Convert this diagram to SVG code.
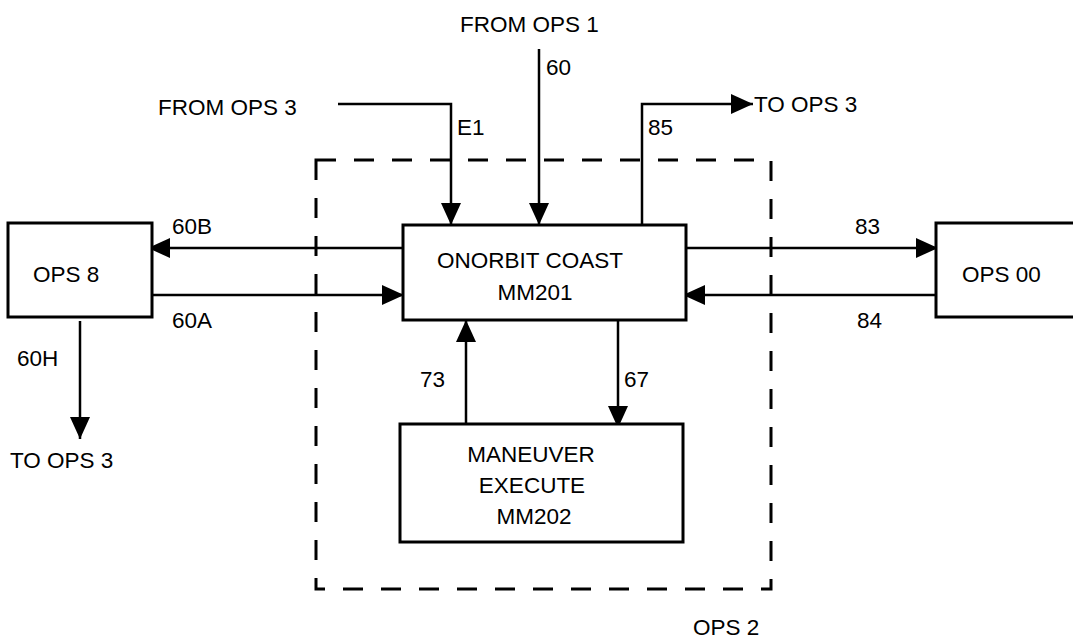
<svg xmlns="http://www.w3.org/2000/svg" width="1073" height="639" viewBox="0 0 1073 639">
<defs>
<style>
text{font-family:"Liberation Sans",Arial,sans-serif;font-size:22.5px;fill:#000;}
.box{fill:#fff;stroke:#000;stroke-width:3;}
.ln{fill:none;stroke:#000;stroke-width:2.5;}
.dash{fill:none;stroke:#000;stroke-width:3;stroke-dasharray:20 18;}
.mid{text-anchor:middle;}
</style>
<marker id="ah" markerUnits="userSpaceOnUse" markerWidth="24" markerHeight="22" viewBox="0 0 24 22" refX="22" refY="11" orient="auto">
<path d="M0,1 L22,11 L0,21 Z" fill="#000"/>
</marker>
</defs>
<rect fill="#fff" x="0" y="0" width="1073" height="639"/>
<g id="ops2-boundary">
<rect class="dash" x="316" y="160" width="455" height="429"/>
<text x="693" y="635">OPS 2</text>
</g>
<g id="connectors">
<polyline class="ln" points="338,104 451,104 451,225" marker-end="url(#ah)"/>
<line class="ln" x1="539" y1="49" x2="539" y2="225" marker-end="url(#ah)"/>
<polyline class="ln" points="642,225 642,104 753,104" marker-end="url(#ah)"/>
<line class="ln" x1="403" y1="248" x2="148" y2="248" marker-end="url(#ah)"/>
<line class="ln" x1="152" y1="295" x2="404" y2="295" marker-end="url(#ah)"/>
<line class="ln" x1="80" y1="321" x2="80" y2="439" marker-end="url(#ah)"/>
<line class="ln" x1="686" y1="248" x2="938" y2="248" marker-end="url(#ah)"/>
<line class="ln" x1="936" y1="295" x2="683" y2="295" marker-end="url(#ah)"/>
<line class="ln" x1="466" y1="424" x2="466" y2="320" marker-end="url(#ah)"/>
<line class="ln" x1="618" y1="320" x2="618" y2="428" marker-end="url(#ah)"/>
<text x="158" y="115">FROM OPS 3</text>
<text x="460" y="32">FROM OPS 1</text>
<text x="546" y="75">60</text>
<text x="457" y="135">E1</text>
<text x="648" y="135">85</text>
<text x="754" y="112">TO OPS 3</text>
<text x="172" y="234">60B</text>
<text x="172" y="328">60A</text>
<text x="17" y="366">60H</text>
<text x="10" y="468">TO OPS 3</text>
<text x="855" y="234">83</text>
<text x="857" y="328">84</text>
<text x="420" y="387">73</text>
<text x="624" y="387">67</text>
</g>
<g id="ops8">
<rect class="box" x="8" y="223" width="144" height="94"/>
<text x="33" y="282">OPS 8</text>
</g>
<g id="ops00">
<rect class="box" x="936" y="223" width="160" height="94"/>
<text x="962" y="282">OPS 00</text>
</g>
<g id="mm201">
<rect class="box" x="403" y="225" width="283" height="95"/>
<text class="mid" x="530" y="268">ONORBIT COAST</text>
<text class="mid" x="535" y="300">MM201</text>
</g>
<g id="mm202">
<rect class="box" x="400" y="424" width="283" height="118"/>
<text class="mid" x="531" y="462">MANEUVER</text>
<text class="mid" x="532" y="493">EXECUTE</text>
<text class="mid" x="534" y="524">MM202</text>
</g>
</svg>
